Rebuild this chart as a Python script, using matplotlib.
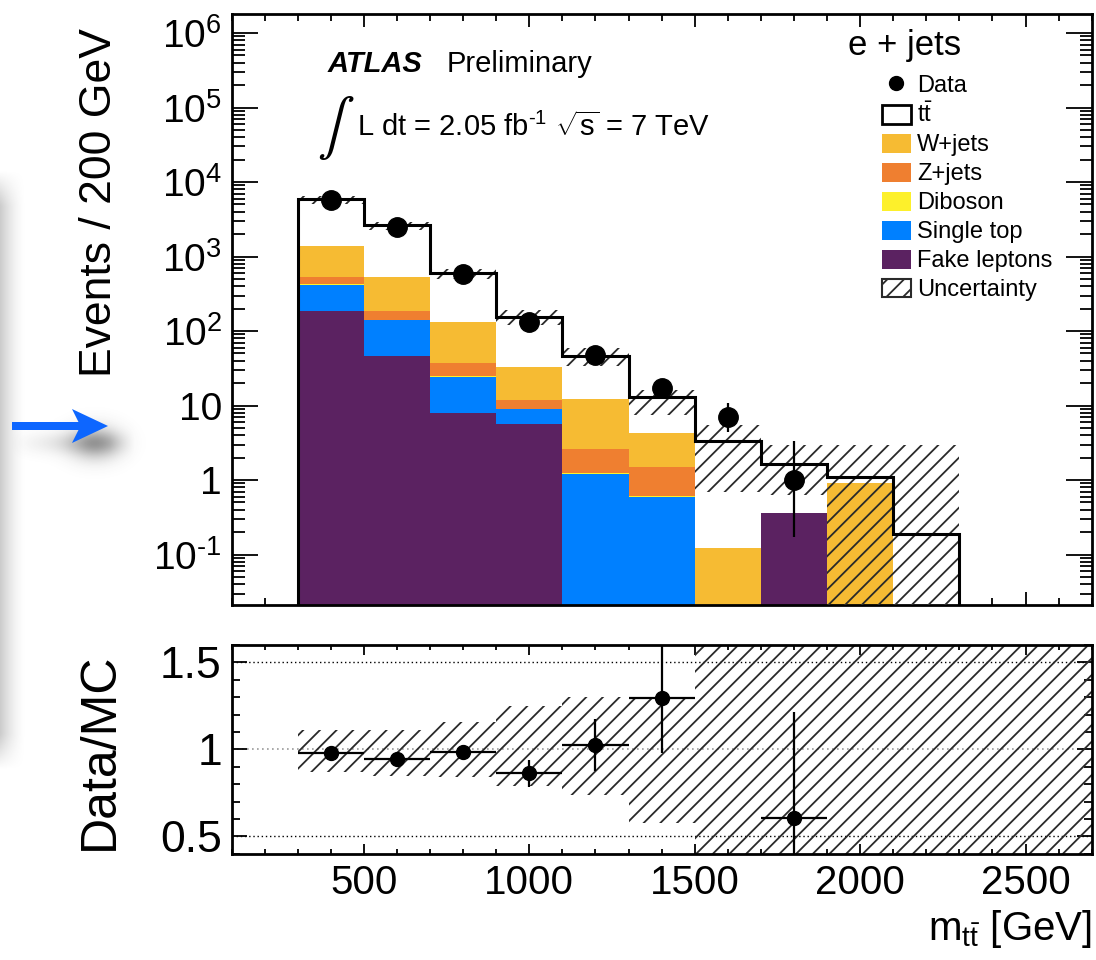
#recreate the ATLAS e+jets m_tt plot with ratio panel
import numpy as np
import matplotlib as mpl
mpl.use('Agg')
import matplotlib.pyplot as plt
from matplotlib.patches import Patch, FancyArrow
from matplotlib.lines import Line2D
from matplotlib.ticker import LogLocator, MultipleLocator, NullFormatter, FuncFormatter

mpl.rcParams['font.family'] = ['Liberation Sans', 'DejaVu Sans']
mpl.rcParams['mathtext.fontset'] = 'custom'
mpl.rcParams['mathtext.rm'] = 'Liberation Sans'
mpl.rcParams['mathtext.it'] = 'Liberation Sans:italic'
mpl.rcParams['mathtext.bf'] = 'Liberation Sans:bold'
mpl.rcParams['hatch.linewidth'] = 1.3

# binning (GeV)
bin_edges = [300, 500, 700, 900, 1100, 1300, 1500, 1700, 1900, 2100, 2300]

# stacked backgrounds, bottom to top
fake_leptons = [187, 46, 7.9, 5.6, 0, 0, 0, 0.364, 0, 0]
single_top = [227, 94, 16.5, 3.3, 1.2, 0.585, 0, 0, 0, 0]
diboson = [10, 2, 0.6, 0.15, 0.05, 0.02, 0, 0, 0, 0]
z_jets = [100, 45, 12.7, 2.8, 1.4, 0.9, 0, 0, 0, 0]
w_jets = [856, 339, 93, 21.3, 9.5, 2.73, 0.124, 0, 0.90, 0]
ttbar = [4480, 2124, 464, 120, 33.8, 8.9, 3.2, 1.28, 0.21, 0.187]

# total uncertainty band (absolute)
band_lo = [5100, 2250, 500, 121, 34.0, 7.5, 0.70, 0.63, 0, 0]
band_hi = [6500, 2940, 690, 191, 60.0, 16.3, 5.5, 3.0, 3.0, 3.0]

# uncertainty band as drawn in the ratio panel (runs out to the axis end)
ratio_band_edges = [300, 500, 700, 900, 1100, 1300, 1500, 1700, 1900, 2100, 2300, 2500, 2700]
ratio_band_lo = [0.87, 0.85, 0.84, 0.79, 0.74, 0.58, 0, 0, 0, 0, 0, 0]
ratio_band_hi = [1.11, 1.11, 1.16, 1.25, 1.30, 1.30, 2, 2, 2, 2, 2, 2]

# data
data_x = [400, 600, 800, 1000, 1200, 1400, 1600, 1800]
data_y = [5750, 2510, 585, 132, 47, 17, 7, 1]
data_err_lo = [75.8, 50.1, 24.2, 11.5, 6.83, 4.08, 2.58, 0.83]
data_err_hi = [76.8, 51.1, 25.2, 12.5, 7.88, 5.18, 3.78, 2.30]

col_w = '#f6bb33'
col_z = '#ef7f30'
col_db = '#fdf02b'
col_st = '#0080ff'
col_fk = '#5b2261'
hatch_col = '#2a2a2a'

edges = np.array(bin_edges, dtype=float)
stack = [(fake_leptons, col_fk), (single_top, col_st), (diboson, col_db),
         (z_jets, col_z), (w_jets, col_w), (ttbar, 'white')]
total = np.sum([np.array(s[0]) for s in stack], axis=0)

fig = plt.figure(figsize=(10.96, 9.6), dpi=100)

# background decoration: window shadow and blue arrow
bg = fig.add_axes([0, 0, 1, 1], zorder=-10)
bg.set_xlim(0, 1096)
bg.set_ylim(960, 0)
bg.axis('off')
gx, gy = np.meshgrid(np.linspace(0, 32, 64), np.linspace(170, 770, 300))
shade = np.clip(1 - gx / 26.0, 0, 1) ** 1.6
vfade = np.clip((gy - 170) / 35.0, 0, 1) * np.clip((770 - gy) / 35.0, 0, 1)
img = np.zeros(gx.shape + (4,))
img[..., :3] = 0.55
img[..., 3] = 0.45 * shade * vfade
bg.imshow(img, extent=(0, 32, 770, 170), aspect='auto', interpolation='bilinear')

sx, sy = np.meshgrid(np.linspace(0, 150, 150), np.linspace(390, 495, 105))
shadow = 0.40 * np.exp(-((sx - 95) / 24.0) ** 2 - ((sy - 443) / 17.0) ** 2)
shadow += 0.16 * np.exp(-((sy - 443) / 11.0) ** 2) * np.clip((sx - 10) / 60.0, 0, 1) * np.clip((135 - sx) / 25.0, 0, 1)
simg = np.zeros(sx.shape + (4,))
simg[..., :3] = 0.25
simg[..., 3] = np.clip(shadow, 0, 1)
bg.imshow(simg, extent=(0, 150, 495, 390), aspect='auto', interpolation='bilinear')
bg.add_patch(FancyArrow(12, 426, 96, 0, width=8, head_width=34, head_length=36,
                        length_includes_head=True, overhang=0.18, color='#0d66ff', lw=0))

# main panel
ax = fig.add_axes([0.2113, 0.3702, 0.7848, 0.6152])
rax = fig.add_axes([0.2113, 0.1106, 0.7848, 0.2175])
ax.set_yscale('log')

bottom = np.zeros(len(total))
for vals, col in stack:
    top = bottom + np.array(vals, dtype=float)
    ax.stairs(top, edges, baseline=np.maximum(bottom, 1e-3), fill=True, color=col,
              linewidth=0, zorder=2)
    bottom = top

ax.stairs(band_hi, edges, baseline=np.maximum(band_lo, 1e-3), fill=True, hatch='//',
          facecolor='none', edgecolor=hatch_col, linewidth=0, zorder=3)
ax.stairs(total, edges, baseline=1e-3, color='black', linewidth=2.2, zorder=4)
ax.errorbar(data_x, data_y, yerr=[data_err_lo, data_err_hi], fmt='o', color='black',
            ms=14, elinewidth=1.6, capsize=0, zorder=5)

ax.set_xlim(100, 2700)
ax.set_ylim(0.0213, 1.8e6)

def log_label(v, pos):
    e = int(round(np.log10(v)))
    if e == 0:
        return '1'
    if e == 1:
        return '10'
    if e < 0:
        return '10$^{\\text{-}%d}$' % (-e)
    return '10$^{%d}$' % e

ax.yaxis.set_major_locator(LogLocator(base=10, numticks=20))
ax.yaxis.set_minor_locator(LogLocator(base=10, subs=np.arange(2, 10), numticks=20))
ax.yaxis.set_major_formatter(FuncFormatter(log_label))
ax.yaxis.set_minor_formatter(NullFormatter())
ax.xaxis.set_major_locator(MultipleLocator(500))
ax.xaxis.set_minor_locator(MultipleLocator(100))
ax.tick_params(axis='both', which='both', direction='in', top=True, right=True, width=1.3)
ax.tick_params(axis='y', which='major', length=19, labelsize=28, pad=7)
ax.tick_params(axis='y', which='minor', length=9)
ax.tick_params(axis='x', which='major', length=9.5, labelbottom=False)
ax.tick_params(axis='x', which='minor', length=5)
for s in ax.spines.values():
    s.set_linewidth(2)

ax.text(-0.153, 0.976, 'Events / 200 GeV', transform=ax.transAxes, rotation=90,
        ha='center', va='top', fontsize=32)
ax.text(0.1121, 0.9018, 'ATLAS', transform=ax.transAxes, fontsize=21,
        fontweight='bold', fontstyle='italic', va='baseline')
ax.text(0.2505, 0.9018, 'Preliminary', transform=ax.transAxes, fontsize=21, va='baseline')
ax.text(0.0997, 0.8078, r'$\int$', transform=ax.transAxes, fontsize=40,
        va='center', math_fontfamily='stix')
ax.text(0.1458, 0.7934, r'L dt = 2.05 fb$^{\text{-}1}$ $\sqrt{\mathregular{s}}$ = 7 TeV',
        transform=ax.transAxes, fontsize=21, va='baseline')
ax.text(0.7167, 0.946, 'e + jets', transform=ax.transAxes, fontsize=25, va='center')

handles = [Line2D([], [], ls='none', marker='o', color='black', ms=10),
           Patch(facecolor='white', edgecolor='black', linewidth=2),
           Patch(facecolor=col_w, edgecolor='none'),
           Patch(facecolor=col_z, edgecolor='none'),
           Patch(facecolor=col_db, edgecolor='none'),
           Patch(facecolor=col_st, edgecolor='none'),
           Patch(facecolor=col_fk, edgecolor='none'),
           Patch(facecolor='white', edgecolor=hatch_col, hatch='//', linewidth=1.5)]
labels = ['Data', r'$\mathregular{t\bar{t}}$', 'W+jets', 'Z+jets', 'Diboson',
          'Single top', 'Fake leptons', 'Uncertainty']
ax.legend(handles, labels, loc='upper left', bbox_to_anchor=(0.756, 0.8985),
          frameon=False, fontsize=17, borderpad=0, borderaxespad=0,
          handlelength=1.23, handleheight=0.85, handletextpad=0.25, labelspacing=0.27)

# ratio panel
ratio = np.array(data_y) / total[:len(data_y)]
ratio_err = np.sqrt(np.array(data_y, dtype=float)) / total[:len(data_y)]
shown = (ratio > 0.4) & (ratio < 1.6)

rax.stairs(ratio_band_hi, ratio_band_edges, baseline=ratio_band_lo, fill=True,
           hatch='//', facecolor='none', edgecolor=hatch_col, linewidth=0, zorder=2)
rax.axhline(1.5, color='black', ls=(0, (1, 2)), lw=1.0, zorder=1)
rax.axhline(0.5, color='black', ls=(0, (1, 2)), lw=1.0, zorder=1)
rax.axhline(1.0, color='#9a9a9a', ls=(0, (1, 2)), lw=1.2, zorder=1)
rax.errorbar(np.array(data_x)[shown], ratio[shown], xerr=100, yerr=ratio_err[shown],
             fmt='o', color='black', ms=10, elinewidth=1.6, capsize=0, zorder=5)

rax.set_xlim(100, 2700)
rax.set_ylim(0.4, 1.6)
rax.xaxis.set_major_locator(MultipleLocator(500))
rax.xaxis.set_minor_locator(MultipleLocator(100))
rax.yaxis.set_major_locator(MultipleLocator(0.5))
rax.yaxis.set_minor_locator(MultipleLocator(0.1))
rax.yaxis.set_major_formatter(FuncFormatter(lambda v, p: '%g' % v))
rax.tick_params(axis='both', which='both', direction='in', top=True, right=True, width=1.3)
rax.tick_params(axis='y', which='major', length=11, labelsize=32, pad=7)
rax.tick_params(axis='y', which='minor', length=6)
rax.tick_params(axis='x', which='major', length=7, labelsize=29, pad=7)
rax.tick_params(axis='x', which='minor', length=3.6)
for s in rax.spines.values():
    s.set_linewidth(2)

rax.text(-0.153, 0.492, 'Data/MC', transform=rax.transAxes, rotation=90,
         ha='center', va='center', fontsize=36)
rax.text(1.0, -0.413, r'm$_{\mathregular{t\bar{t}}}$ [GeV]', transform=rax.transAxes,
         ha='right', va='baseline', fontsize=29)

fig.savefig('out.png', dpi=100)
